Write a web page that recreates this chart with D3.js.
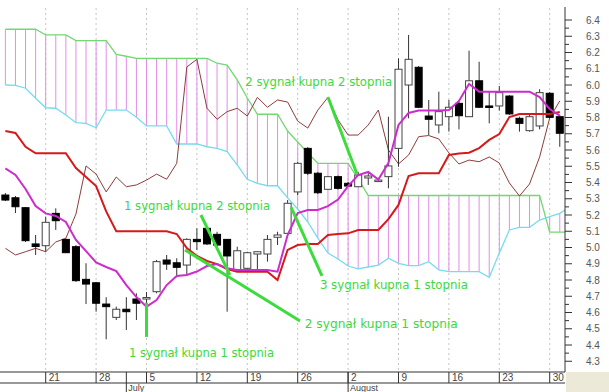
<!DOCTYPE html>
<html><head><meta charset="utf-8">
<script src="https://cdn.jsdelivr.net/npm/d3@7"></script>
<style>body{margin:0;background:#fff}svg{display:block;font-family:"Liberation Sans",Arial,sans-serif}</style>
</head><body>
<svg id="c" width="609" height="392"></svg>
<script>
// ---- data (t = trading-day offset from Mon 21 June; first candle t=-4) ----
const firstT = -4;
const opens  = [5.323,5.306,5.245,5.022,5.011,5.21,5.05,5.005,4.804,4.783,4.652,4.57,4.62,4.683,4.683,4.728,4.923,4.906,4.892,5.05,5.118,5.081,5.05,4.862,4.872,4.96,4.96,5.063,5.087,5.342,5.61,5.457,5.358,5.436,5.395,5.374,5.428,5.415,5.436,5.61,6.0,6.109,5.809,5.754,5.805,5.887,5.805,6.026,5.871,5.871,5.932,5.795,5.719,5.748,5.949,5.805];
const highs  = [5.335,5.317,5.249,5.077,5.19,5.241,5.055,5.015,4.903,4.788,4.694,4.636,4.694,4.718,4.726,4.923,4.954,4.934,5.057,5.118,5.126,5.097,5.052,5.005,4.974,4.975,5.077,5.097,5.292,5.526,5.618,5.465,5.44,5.443,5.403,5.466,5.458,5.428,5.805,6.164,6.308,6.117,5.908,5.959,5.908,5.908,6.211,6.143,5.959,5.994,5.938,5.805,5.815,5.974,5.957,5.815];
const lows   = [5.286,5.212,5.034,4.954,4.974,5.108,4.966,4.788,4.652,4.605,4.435,4.554,4.492,4.554,4.646,4.718,4.862,4.82,4.831,4.985,5.015,5.005,4.605,4.855,4.862,4.862,4.913,5.015,5.077,5.323,5.446,5.329,5.354,5.357,5.372,5.372,5.385,5.403,5.364,5.497,5.795,5.858,5.692,5.703,5.713,5.727,5.803,5.858,5.764,5.842,5.815,5.713,5.713,5.727,5.797,5.62];
const closes = [5.292,5.251,5.042,5.006,5.155,5.165,4.968,4.796,4.775,4.657,4.636,4.62,4.605,4.657,4.692,4.913,4.898,4.878,5.05,5.036,5.022,5.015,4.948,4.98,4.968,4.974,5.05,5.077,5.272,5.518,5.457,5.337,5.436,5.364,5.378,5.446,5.44,5.415,5.502,6.097,6.158,5.863,5.789,5.836,5.863,5.811,6.026,5.863,5.863,5.953,5.822,5.764,5.805,5.953,5.801,5.703];
const tenkan = [5.487,5.446,5.36,5.255,5.21,5.194,5.157,5.046, 4.978,4.908,4.88,4.855,4.769,4.695,4.636,4.677, 4.769,4.825,4.831,4.852,4.886,4.898,4.872,4.862, 4.862,4.862,4.862,4.851,5.077,5.212,5.231,5.231, 5.255,5.295,5.378,5.446,5.465,5.418,5.52,5.754, 5.828,5.843,5.843,5.843,5.846,5.902,6.006,5.959, 5.959,5.959,5.959,5.959,5.959,5.926,5.852,5.812];
const kijun  = [5.717,5.705,5.62,5.58,5.58,5.58,5.58,5.489, 5.434,5.378,5.222,5.1,5.1,5.1,5.1,5.1, 5.1,5.083,4.997,4.948,4.917,4.898,4.868,4.851, 4.851,4.851,4.851,4.8,4.985,5.015,5.022,5.022, 5.077,5.083,5.087,5.108,5.108,5.108,5.175,5.262, 5.44,5.457,5.457,5.457,5.569,5.578,5.583,5.612, 5.662,5.698,5.803,5.822,5.822,5.822,5.822,5.834];
const chikou = [4.995,4.954,4.974,4.995,4.974,5.034,5.057,5.206, 5.502,5.452,5.342,5.434,5.374,5.385,5.415,5.452, 5.42,5.518,6.111,6.158,5.857,5.789,5.836,5.857, 5.809,5.924,5.863,5.908,5.895,5.778,5.735,5.846, 5.924,5.785,5.692,5.692,5.754,5.846,5.6,5.514, 5.569,5.682,5.689,5.668,5.582,5.514,5.538,5.528, 5.557,5.52,5.397,5.317,5.391,5.557,5.797,5.902];
const spanGreen = [6.343,6.343,6.343,6.343,6.308,6.308,6.308,6.273,6.273,6.273,6.273,6.189,6.177,6.164,6.164,6.164,6.164,6.164,6.164,6.164,6.164,6.134,6.123,6.031,5.92,5.82,5.82,5.82,5.717,5.649,5.582,5.518,5.518,5.518,5.518,5.422,5.32,5.32,5.32,5.32,5.32,5.32,5.32,5.32,5.32,5.32,5.32,5.32,5.32,5.32,5.32,5.32,5.32,5.32,5.095,5.095,5.095];
const spanCyan  = [6.0,5.998,5.98,5.918,5.86,5.857,5.815,5.768, 5.764,5.737,5.846,5.846,5.846,5.801,5.748,5.748, 5.748,5.637,5.637,5.637,5.62,5.61,5.59,5.508, 5.42,5.395,5.38,5.38,5.305,5.237,5.157,5.058, 4.966,4.929,4.886,4.868,4.88,4.892,4.934,4.903, 4.888,4.888,4.913,4.862,4.851,4.851,4.851,4.851, 4.817,4.966,5.108,5.124,5.124,5.169,5.19,5.21,5.249];
const weekTicks  = [0,5,10,15,20,25,30,35,40,45,50];
const weekLabels = ["21","28","5","12","19","26","2","9","16","23","30"];
const monthTicks = [8,30];
const monthLabels = ["July","August"];
const yTickLabels = ["4.3","4.4","4.5","4.6","4.7","4.8","4.9","5.0","5.1","5.2","5.3","5.4","5.5","5.6","5.7","5.8","5.9","6.0","6.1","6.2","6.3","6.4"];
const signals = [
  {text:"2 sygnał kupna 2 stopnia", t:19.8, v:6.018, w:147, line:[[28.0,5.926],[30.88,5.452]]},
  {text:"1 sygnał kupna 2 stopnia", t:7.77, v:5.26, w:146, line:[[15.4,5.2],[18.28,4.831]]},
  {text:"3 sygnał kupna 1 stopnia", t:27.2, v:4.77, w:148, line:[[24.34,5.249],[27.41,4.825]]},
  {text:"2 sygnał kupna 1 stopnia", t:25.7, v:4.53, w:153, line:[[13.82,4.985],[25.23,4.548]]},
  {text:"1 sygnał kupna 1 stopnia", t:8.27, v:4.352, w:145, line:[[10,4.66],[10,4.45]]}
];

// ---- scales ----
const svg = d3.select('#c');
const x = d3.scaleLinear().domain([0,50]).range([45.7,549.7]);
const y = d3.scaleLinear().domain([4.3,6.4]).range([361.25,20]);
const plotR = 565, plotB = 372;

svg.append('defs').append('clipPath').attr('id','clip')
  .append('rect').attr('x',0).attr('y',0).attr('width',plotR).attr('height',plotB);
const g = svg.append('g').attr('clip-path','url(#clip)');

// gridlines
g.selectAll('line.grid').data(weekTicks).join('line').attr('class','grid')
  .attr('x1',d=>x(d)).attr('x2',d=>x(d)).attr('y1',8).attr('y2',plotB)
  .attr('stroke','#c4c4c4').attr('stroke-dasharray','2,3');

// cloud hatch
const spanIdx = d3.range(spanGreen.length);
g.selectAll('line.hatch').data(spanIdx).join('line').attr('class','hatch')
  .attr('x1',i=>x(i+firstT)).attr('x2',i=>x(i+firstT))
  .attr('y1',i=>y(spanGreen[i])).attr('y2',i=>y(spanCyan[i]))
  .attr('stroke','#e28ee8').attr('stroke-width',1);

const lineGen = d3.line().x((d,i)=>x(i+firstT)).y(d=>y(d));
g.append('path').datum(spanGreen).attr('d',lineGen).attr('fill','none').attr('stroke','#72d872').attr('stroke-width',1.3);
g.append('path').datum(spanCyan).attr('d',lineGen).attr('fill','none').attr('stroke','#74dcef').attr('stroke-width',1.3);
g.append('path').datum(chikou).attr('d',lineGen).attr('fill','none').attr('stroke','#8e3c3c').attr('stroke-width',1);

// candles
const cIdx = d3.range(opens.length);
const cg = g.append('g');
cg.selectAll('line.wick').data(cIdx).join('line').attr('class','wick')
  .attr('x1',i=>x(i+firstT)).attr('x2',i=>x(i+firstT))
  .attr('y1',i=>y(highs[i])).attr('y2',i=>y(lows[i]))
  .attr('stroke','#333').attr('stroke-width',1);
cg.selectAll('rect.body').data(cIdx).join('rect').attr('class','body')
  .attr('x',i=>x(i+firstT)-3.5).attr('width',7)
  .attr('y',i=>y(Math.max(opens[i],closes[i])))
  .attr('height',i=>Math.max(1.5, Math.abs(y(opens[i])-y(closes[i]))))
  .attr('fill',i=>closes[i]>=opens[i]?'#fff':'#000')
  .attr('stroke',i=>closes[i]>=opens[i]?'#444':'#000').attr('stroke-width',1);

g.append('path').datum(kijun).attr('d',lineGen).attr('fill','none').attr('stroke','#d41a1a').attr('stroke-width',2);
g.append('path').datum(tenkan).attr('d',lineGen).attr('fill','none').attr('stroke','#cc2ccc').attr('stroke-width',2);

// signals
const sg = svg.append('g');
signals.forEach(s=>{
  sg.append('line').attr('x1',x(s.line[0][0])).attr('y1',y(s.line[0][1]))
    .attr('x2',x(s.line[1][0])).attr('y2',y(s.line[1][1]))
    .attr('stroke','#3ddc3d').attr('stroke-width',3);
  sg.append('text').attr('x',x(s.t)).attr('y',y(s.v)).attr('dy','0.36em')
    .attr('textLength',s.w).attr('lengthAdjust','spacingAndGlyphs')
    .attr('font-family','"DejaVu Sans",sans-serif').attr('font-size',12)
    .attr('fill','#3dd83d').text(s.text);
});

// right axis
const ya = svg.append('g').attr('transform',`translate(${plotR},0)`);
ya.append('line').attr('x1',0).attr('x2',0).attr('y1',7).attr('y2',plotB).attr('stroke','#333');
const minorVals = yTickLabels.slice(0,-1).map(l=>+l+0.05);
ya.selectAll('line.minor').data(minorVals).join('line').attr('class','minor')
  .attr('x1',0).attr('x2',4).attr('y1',d=>y(d)).attr('y2',d=>y(d)).attr('stroke','#333');
ya.selectAll('line.major').data(yTickLabels).join('line').attr('class','major')
  .attr('x1',0).attr('x2',7).attr('y1',d=>y(+d)).attr('y2',d=>y(+d)).attr('stroke','#333');
ya.selectAll('text').data(yTickLabels).join('text')
  .attr('x',21).attr('y',d=>y(+d)).attr('dy','0.35em')
  .attr('font-size',10).attr('fill','#555').text(d=>d);

// bottom axis strip
const xa = svg.append('g');
xa.append('line').attr('x1',0).attr('x2',plotR).attr('y1',plotB).attr('y2',plotB).attr('stroke','#333');
xa.append('line').attr('x1',0).attr('x2',plotR).attr('y1',383).attr('y2',383).attr('stroke','#333');
xa.selectAll('line.wk').data(weekTicks).join('line').attr('class','wk')
  .attr('x1',d=>x(d)).attr('x2',d=>x(d)).attr('y1',plotB).attr('y2',383).attr('stroke','#333');
xa.selectAll('text.wk').data(weekTicks).join('text').attr('class','wk')
  .attr('x',d=>x(d)+3).attr('y',381).attr('font-size',10).attr('fill','#444')
  .text((d,i)=>weekLabels[i]);
xa.selectAll('line.mo').data(monthTicks).join('line').attr('class','mo')
  .attr('x1',d=>x(d)).attr('x2',d=>x(d)).attr('y1',plotB).attr('y2',392).attr('stroke','#333');
xa.selectAll('text.mo').data(monthTicks).join('text').attr('class','mo')
  .attr('x',d=>x(d)+2).attr('y',390.5).attr('font-size',9).attr('fill','#444')
  .text((d,i)=>monthLabels[i]);
svg.append('rect').attr('x',566).attr('y',372).attr('width',43).attr('height',20).attr('fill','#ece9d8');
</script>
</body></html>
